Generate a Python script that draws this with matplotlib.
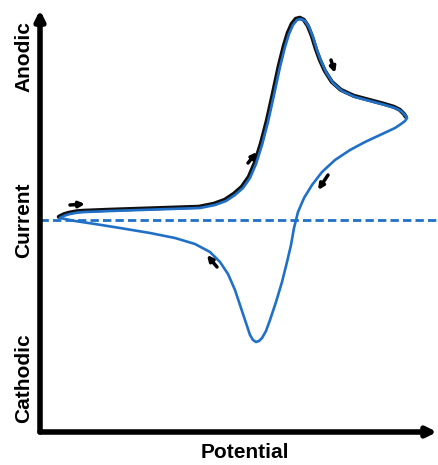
import matplotlib.pyplot as plt
from matplotlib.transforms import offset_copy

# cyclic voltammogram sketch, arbitrary units
# forward (anodic) sweep, left tip -> switching potential
fwd_potential = [20, 25, 30, 38, 45, 70, 100, 130, 160, 175, 186, 195, 203, 210, 216, 222, 228, 234, 240,
                 245, 249, 253, 257, 261, 265, 269, 273, 277, 281, 286, 293, 302, 315, 330, 345, 355, 361, 365, 367]
fwd_current = [2, 4.5, 6, 7.5, 8, 9, 10, 11, 12, 15, 19, 25, 32, 42, 56, 75, 98, 125, 153,
               173, 186, 195, 200, 201, 199, 193, 183, 170, 159, 148, 137, 129, 123, 119, 115, 112, 109, 105, 102]

# reverse (cathodic) sweep, switching potential -> back to start
rev_potential = [367, 365, 361, 355, 340, 325, 310, 295, 282, 272, 264, 258, 254, 251, 247, 242, 236,
                 230, 226, 222, 219, 216, 213, 210, 207, 203, 199, 195, 188, 180, 170, 155, 135, 110, 80, 55, 35, 20]
rev_current = [102, 99, 96, 92, 85, 78, 70, 60, 48, 35, 22, 8, -8, -25, -42, -62, -82,
               -100, -111, -118, -121, -122, -120, -115, -106, -94, -82, -70, -54, -42, -32, -24, -18, -13, -8, -4, -1, 2]

# sweep direction markers: (tail, head)
arrows = [((30, 15), (45, 16)),
          ((208, 57), (217, 68)),
          ((291, 160), (295, 147)),
          ((288, 45), (278, 30)),
          ((177, -47), (167, -35))]

blue = '#2070c8'

fig = plt.figure(figsize=(4.39, 4.65), dpi=100)
ax = fig.add_axes([40/439, 33/465, 397/439, 422/465])
ax.set_xlim(0, 397)
ax.set_ylim(-212, 210)
ax.axis('off')

ax.axhline(0, color=blue, lw=2, ls=(0, (3, 1.5)), xmax=1.01, clip_on=False)

# black shadow slightly up-left of the forward sweep
shadow = offset_copy(ax.transData, fig=fig, x=-1.2, y=1.2, units='dots')
ax.plot(fwd_potential, fwd_current, color='#111111', lw=3.0, solid_capstyle='round',
        solid_joinstyle='round', transform=shadow)
ax.plot(fwd_potential, fwd_current, color=blue, lw=1.9, solid_capstyle='round', solid_joinstyle='round')
ax.plot(rev_potential, rev_current, color=blue, lw=1.9, solid_capstyle='round', solid_joinstyle='round')

for tail, head in arrows:
    ax.annotate('', xy=head, xytext=tail,
                arrowprops=dict(arrowstyle='-|>', color='black', lw=2.5, mutation_scale=8,
                                shrinkA=0, shrinkB=0))

# axes drawn as thick arrows
ax.annotate('', xy=(1.0, 0), xytext=(0, 0), xycoords='axes fraction',
            arrowprops=dict(arrowstyle='-|>', color='black', lw=4, mutation_scale=14,
                            shrinkA=0, shrinkB=0))
ax.annotate('', xy=(0, 1.0), xytext=(0, 0), xycoords='axes fraction',
            arrowprops=dict(arrowstyle='-|>', color='black', lw=4, mutation_scale=14,
                            shrinkA=0, shrinkB=0))

font = dict(family='Liberation Sans', weight='bold', fontsize=15)
fig.text(24/439, 1 - 57/465, 'Anodic', rotation=90, ha='center', va='center', **font)
fig.text(24/439, 1 - 220/465, 'Current', rotation=90, ha='center', va='center', **font)
fig.text(24/439, 1 - 378/465, 'Cathodic', rotation=90, ha='center', va='center', **font)
fig.text(245/439, 1 - 452/465, 'Potential', ha='center', va='center', **font)

plt.savefig('out.png', dpi=100)
